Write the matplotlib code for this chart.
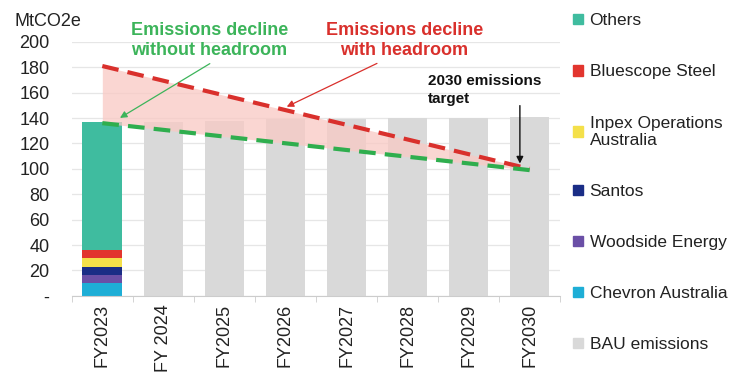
import numpy as np
import matplotlib.pyplot as plt
from matplotlib.patches import Patch

plt.rcParams['font.family'] = ['Liberation Sans', 'DejaVu Sans']

years = ['FY2023', 'FY 2024', 'FY2025', 'FY2026', 'FY2027', 'FY2028', 'FY2029', 'FY2030']

# FY2023 breakdown by emitter (bottom to top)
companies = ['Chevron Australia', 'Woodside Energy', 'Santos', 'Inpex Operations\nAustralia',
             'Bluescope Steel', 'Others']
company_vals = [10, 6.5, 6.5, 7, 6, 101]
company_colors = ['#1eaed6', '#6a4fa6', '#1a2d86', '#f4e04a', '#e2352e', '#3fbc9f']

# BAU emissions FY2024-FY2030
bau = [137, 138, 139, 139, 140, 140, 141]

# trajectories
with_headroom = [181, 100]
without_headroom = [136, 99]

x = np.arange(len(years))

fig = plt.figure(figsize=(7.4, 3.74), dpi=100)
ax = fig.add_axes([0.097, 0.209, 0.66, 0.679])

bottom = 0
for v, c in zip(company_vals, company_colors):
    ax.bar(x[0], v, bottom=bottom, width=0.65, color=c, zorder=2)
    bottom += v
ax.bar(x[1:], bau, width=0.65, color='#d9d9d9', zorder=2)

# pink headroom area and dashed lines
xl = [x[0], x[-1]]
ax.fill_between(xl, without_headroom, with_headroom, color='#f9c9c4', alpha=0.75, zorder=3, lw=0)
ax.plot(xl, with_headroom, color='#d9302c', lw=3, dashes=(4, 2.2), zorder=4)
ax.plot(xl, without_headroom, color='#2fae4e', lw=3, dashes=(4, 2.2), zorder=4)

ax.set_xlim(-0.5, len(years) - 0.5)
ax.set_ylim(0, 200)
ax.set_yticks(np.arange(0, 201, 20))
ax.set_yticklabels(['-'] + [str(v) for v in range(20, 201, 20)])
ax.set_xticks(x)
ax.set_xticklabels(years, rotation=90)
ax.set_xticks(np.arange(-0.5, len(years), 1), minor=True)
ax.tick_params(axis='x', which='major', length=0, pad=6, labelsize=13, colors='#222222')
ax.tick_params(axis='x', which='minor', length=4, color='#cccccc')
ax.tick_params(axis='y', length=0, labelsize=13, colors='#222222', pad=16)
ax.grid(axis='y', color='#e6e6e6', lw=0.9, zorder=0)
for s in ['top', 'right', 'left']:
    ax.spines[s].set_visible(False)
ax.spines['bottom'].set_color('#cccccc')

fig.text(0.02, 0.93, 'MtCO2e', fontsize=13, color='#222222')

# annotations
ax.text(1.75, 201, 'Emissions decline\nwithout headroom', ha='center', va='center',
        color='#3cb45a', fontsize=13, fontweight='bold', linespacing=1.2)
ax.annotate('', xy=(0.25, 139), xytext=(1.8, 184),
            arrowprops=dict(arrowstyle='-|>', color='#3cb45a', lw=0.9))
ax.text(4.95, 201, 'Emissions decline\nwith headroom', ha='center', va='center',
        color='#d9302c', fontsize=13, fontweight='bold', linespacing=1.2)
ax.annotate('', xy=(2.98, 148), xytext=(4.54, 184),
            arrowprops=dict(arrowstyle='-|>', color='#d9302c', lw=0.9))
ax.text(5.33, 162, '2030 emissions\ntarget', ha='left', va='center', color='#111111',
        fontsize=11, fontweight='bold', linespacing=1.3)
ax.annotate('', xy=(6.84, 102), xytext=(6.84, 152),
            arrowprops=dict(arrowstyle='-|>', color='#111111', lw=1.0))

legend_labels = ['Others', 'Bluescope Steel', 'Inpex Operations\nAustralia', 'Santos',
                 'Woodside Energy', 'Chevron Australia', 'BAU emissions']
legend_colors = ['#3fbc9f', '#e2352e', '#f4e04a', '#1a2d86', '#6a4fa6', '#1eaed6', '#d9d9d9']
handles = [Patch(color=c, label=l) for c, l in zip(legend_colors, legend_labels)]
fig.legend(handles=handles, loc='upper left', bbox_to_anchor=(0.765, 0.983), frameon=False,
           fontsize=12.5, handlelength=0.55, handleheight=0.55, handletextpad=0.4,
           labelspacing=2.08, labelcolor='#222222', borderaxespad=0)

fig.savefig('out.png', dpi=100)
